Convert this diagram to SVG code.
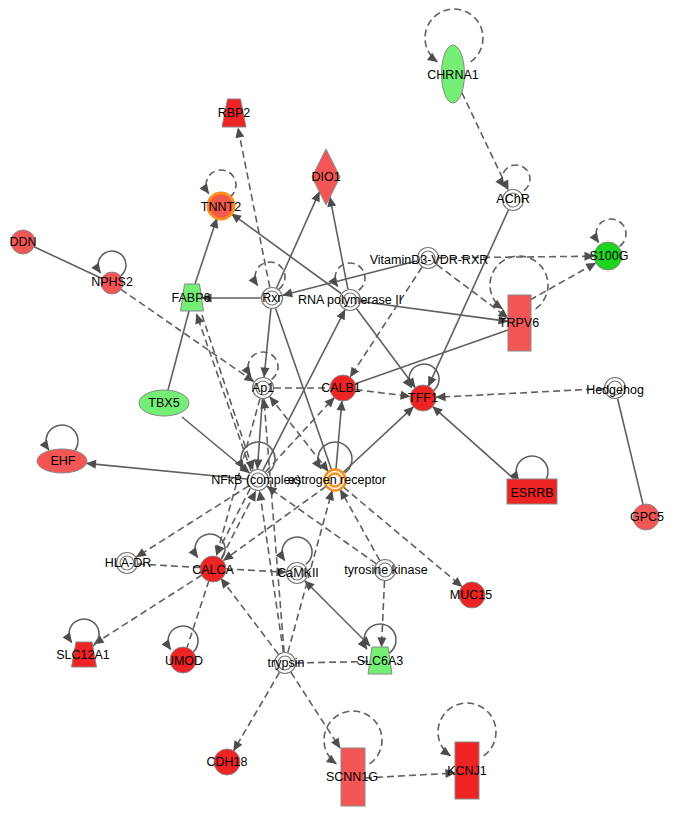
<svg xmlns="http://www.w3.org/2000/svg" width="685" height="823" viewBox="0 0 685 823">
<defs>
<marker id="arr" viewBox="0 0 10 10" refX="9.5" refY="5" markerWidth="11" markerHeight="10" markerUnits="userSpaceOnUse" orient="auto-start-reverse"><path d="M0,0.5 L10,5 L0,9.5 z" fill="#4d4d4d"/></marker>
<style>
.e{stroke:#606060;stroke-width:1.6;fill:none}
.d{stroke-dasharray:7 4}
.n{stroke:#888;stroke-width:1}
.r1{fill:#ee2424}
.r2{fill:#f45656}
.g1{fill:#74ee74}
.g2{fill:#1fd41f}
.cx{fill:#fff;stroke:#777;stroke-width:1.2}
.er{fill:#fff;stroke:#f5901e;stroke-width:2.5}
.t{font-family:"Liberation Sans",Arial,sans-serif;font-size:12.5px;fill:#000;text-anchor:middle}
</style>
</defs>
<rect width="685" height="823" fill="#fff"/>
<g id="edges">
<line class="e" x1="195" y1="284" x2="216.9" y2="218.3" marker-end="url(#arr)"/>
<line class="e" x1="341.1" y1="293.5" x2="231.5" y2="213.7" marker-end="url(#arr)"/>
<line class="e" x1="276.5" y1="288" x2="319.4" y2="191.8" marker-end="url(#arr)"/>
<line class="e" x1="347.9" y1="289.2" x2="329.9" y2="197.1" marker-end="url(#arr)"/>
<line class="e" x1="261" y1="298" x2="202" y2="298" marker-end="url(#arr)"/>
<line class="e" x1="417.3" y1="260.7" x2="282.7" y2="295.3" marker-end="url(#arr)"/>
<line class="e" x1="270.9" y1="308.9" x2="264.1" y2="377.1" marker-end="url(#arr)"/>
<line class="e" x1="275.6" y1="308.4" x2="331.4" y2="469.6"/>
<line class="e" x1="263" y1="470.2" x2="345" y2="309.8" marker-end="url(#arr)"/>
<line class="e" x1="356.6" y1="308.8" x2="415.2" y2="387.6" marker-end="url(#arr)"/>
<line class="e" x1="361" y1="301.5" x2="508" y2="321.4" marker-end="url(#arr)"/>
<line class="e" x1="508" y1="330" x2="355.3" y2="383.7"/>
<line class="e" x1="508.4" y1="210" x2="428.4" y2="386.2" marker-end="url(#arr)"/>
<line class="e" x1="514" y1="479" x2="432.7" y2="406.6" marker-end="url(#arr)"/>
<line class="e" x1="343" y1="472.5" x2="413.5" y2="406.9" marker-end="url(#arr)"/>
<line class="e" x1="336" y1="469" x2="341.9" y2="401" marker-end="url(#arr)"/>
<line class="e" x1="617.6" y1="398.7" x2="643" y2="504.4"/>
<line class="e" x1="34" y1="246.8" x2="102" y2="278.4"/>
<line class="e" x1="189" y1="311" x2="168" y2="390"/>
<line class="e" x1="182" y1="417" x2="249.5" y2="473" marker-end="url(#arr)"/>
<line class="e" x1="247" y1="479" x2="86.5" y2="463.4" marker-end="url(#arr)"/>
<line class="e" x1="262.4" y1="399" x2="257.4" y2="469" marker-end="url(#arr)"/>
<line class="e" x1="304.8" y1="580.8" x2="370" y2="646" marker-start="url(#arr)" marker-end="url(#arr)"/>
<line class="e d" x1="461.8" y1="92.5" x2="508.3" y2="190.1" marker-end="url(#arr)"/>
<line class="e d" x1="439" y1="257.9" x2="594" y2="256.2" marker-end="url(#arr)"/>
<line class="e d" x1="530" y1="300" x2="595.8" y2="262.9" marker-end="url(#arr)"/>
<line class="e d" x1="436.8" y1="264.6" x2="508" y2="318" marker-end="url(#arr)"/>
<line class="e d" x1="422" y1="267.2" x2="350.1" y2="377.1" marker-end="url(#arr)"/>
<line class="e d" x1="269.8" y1="287.2" x2="238" y2="128" marker-end="url(#arr)"/>
<line class="e d" x1="121" y1="289.4" x2="254" y2="381.6" marker-end="url(#arr)"/>
<line class="e d" x1="251" y1="471" x2="196.5" y2="314" marker-end="url(#arr)"/>
<line class="e d" x1="202" y1="315" x2="253" y2="470" marker-end="url(#arr)"/>
<line class="e d" x1="274" y1="388" x2="330" y2="388"/>
<line class="e d" x1="355.9" y1="389.6" x2="410.1" y2="396.4" marker-end="url(#arr)"/>
<line class="e d" x1="604" y1="388.6" x2="436" y2="397.3" marker-end="url(#arr)"/>
<line class="e d" x1="343.4" y1="487.1" x2="462" y2="586.6" marker-end="url(#arr)"/>
<line class="e d" x1="265.5" y1="471.9" x2="334.2" y2="397.5" marker-end="url(#arr)"/>
<line class="e d" x1="248.7" y1="485.9" x2="136.3" y2="557.1" marker-end="url(#arr)"/>
<line class="e d" x1="138" y1="564" x2="200" y2="567.5"/>
<line class="e d" x1="226" y1="568.8" x2="286" y2="572.3" marker-end="url(#arr)"/>
<line class="e d" x1="202" y1="575" x2="94" y2="644" marker-end="url(#arr)"/>
<line class="e d" x1="209" y1="580.4" x2="187" y2="647.6"/>
<line class="e d" x1="278.4" y1="654.2" x2="220.9" y2="578.4" marker-end="url(#arr)"/>
<line class="e d" x1="283.4" y1="652.1" x2="259.6" y2="490.9" marker-end="url(#arr)"/>
<line class="e d" x1="284.1" y1="652" x2="263.9" y2="399" marker-end="url(#arr)"/>
<line class="e d" x1="287.9" y1="652.4" x2="332.1" y2="490.6" marker-end="url(#arr)"/>
<line class="e d" x1="296" y1="663" x2="368" y2="661.5"/>
<line class="e d" x1="279.4" y1="672.5" x2="233.6" y2="750.8" marker-end="url(#arr)"/>
<line class="e d" x1="290.9" y1="672.3" x2="340" y2="748" marker-end="url(#arr)"/>
<line class="e d" x1="365" y1="778" x2="455" y2="773" marker-end="url(#arr)"/>
<line class="e d" x1="384.5" y1="581" x2="381.5" y2="647" marker-end="url(#arr)"/>
<line class="e d" x1="379.7" y1="560.4" x2="340.3" y2="489.6" marker-end="url(#arr)"/>
<line class="e d" x1="376" y1="563.6" x2="267" y2="486.4" marker-end="url(#arr)"/>
<line class="e d" x1="326.1" y1="486.4" x2="223.5" y2="560.4" marker-end="url(#arr)"/>
<line class="e d" x1="250.3" y1="488.4" x2="216.2" y2="555" marker-end="url(#arr)"/>
<line class="e d" x1="221.6" y1="557.8" x2="255.7" y2="491.2" marker-end="url(#arr)"/>
<line class="e d" x1="260" y1="398.6" x2="216.5" y2="555.5" marker-end="url(#arr)"/>
<line class="e d" x1="269.8" y1="396.7" x2="328.2" y2="471.3" marker-start="url(#arr)" marker-end="url(#arr)"/>
<path class="e d" d="M470.6,61.8 A29,29 0 1 0 437.4,61.8" marker-end="url(#arr)"/>
<path class="e d" d="M524,190.5 A14,14 0 1 0 504.5,187" marker-end="url(#arr)"/>
<path class="e d" d="M619.6,246.3 A15,15 0 1 0 598.7,242.6" marker-end="url(#arr)"/>
<path class="e d" d="M535.6,308.8 A29,29 0 1 0 502.4,308.8" marker-end="url(#arr)"/>
<path class="e d" d="M229.6,197.3 A15,15 0 1 0 208.7,193.6" marker-end="url(#arr)"/>
<path class="e d" d="M278.6,289.3 A15,15 0 1 0 257.7,285.6" marker-end="url(#arr)"/>
<path class="e d" d="M358.6,290.3 A15,15 0 1 0 337.7,286.6" marker-end="url(#arr)"/>
<path class="e d" d="M271.6,379.3 A15,15 0 1 0 250.7,375.6" marker-end="url(#arr)"/>
<path class="e d" d="M369.6,763.8 A29,29 0 1 0 336.4,763.8" marker-end="url(#arr)"/>
<path class="e d" d="M483.6,755.8 A29,29 0 1 0 450.4,755.8" marker-end="url(#arr)"/>
<path class="e" d="M120,276.5 A14,14 0 1 0 100.5,273" marker-end="url(#arr)"/>
<path class="e" d="M71.2,454.1 A16,16 0 1 0 48.9,450.2" marker-end="url(#arr)"/>
<path class="e" d="M432.6,391.3 A15,15 0 1 0 411.7,387.6" marker-end="url(#arr)"/>
<path class="e" d="M541.2,485.1 A16,16 0 1 0 518.9,481.2" marker-end="url(#arr)"/>
<path class="e" d="M267.8,472.9 A17,17 0 1 0 244.1,468.8" marker-end="url(#arr)"/>
<path class="e" d="M344.8,472.9 A17,17 0 1 0 321.1,468.8" marker-end="url(#arr)"/>
<path class="e" d="M218.6,561.3 A15,15 0 1 0 197.7,557.6" marker-end="url(#arr)"/>
<path class="e" d="M305.6,564.3 A15,15 0 1 0 284.7,560.6" marker-end="url(#arr)"/>
<path class="e" d="M92.6,646.3 A15,15 0 1 0 71.7,642.6" marker-end="url(#arr)"/>
<path class="e" d="M191.6,653.3 A15,15 0 1 0 170.7,649.6" marker-end="url(#arr)"/>
<path class="e" d="M389.2,653.1 A16,16 0 1 0 366.9,649.2" marker-end="url(#arr)"/>
</g>
<g id="CHRNA1"><ellipse class="n g1" cx="453" cy="74" rx="11.5" ry="29"/><text class="t" x="453" y="79">CHRNA1</text></g>
<g id="AChR"><circle class="cx" cx="513" cy="200" r="10.5"/><circle class="cx" cx="513" cy="200" r="7"/><text class="t" x="513" y="203">AChR</text></g>
<g id="S100G"><circle class="n g2" cx="608" cy="256" r="14"/><text class="t" x="609" y="260">S100G</text></g>
<g id="VDR"><circle class="cx" cx="428" cy="258" r="10.5"/><circle class="cx" cx="428" cy="258" r="7"/><text class="t" x="429" y="264">VitaminD3-VDR-RXR</text></g>
<g id="TRPV6"><rect class="n r2" x="508" y="295" width="23" height="56"/><text class="t" x="519" y="327">TRPV6</text></g>
<g id="RNApol"><circle class="cx" cx="350" cy="300" r="10.5"/><circle class="cx" cx="350" cy="300" r="7"/><text class="t" x="350" y="304">RNA polymerase II</text></g>
<g id="Rxr"><circle class="cx" cx="272" cy="298" r="10.5"/><circle class="cx" cx="272" cy="298" r="7"/><text class="t" x="272" y="302">Rxr</text></g>
<g id="FABP6"><polygon class="n g1" points="184.5,284 199.5,284 203.5,311 180.5,311"/><text class="t" x="191" y="302">FABP6</text></g>
<g id="RBP2"><polygon class="n r1" points="227.5,99 240.5,99 246,127 222,127"/><text class="t" x="234" y="117">RBP2</text></g>
<g id="DIO1"><polygon class="n r2" points="326,149 340,177 326,205 312,177"/><text class="t" x="326" y="181">DIO1</text></g>
<g id="TNNT2"><circle cx="221" cy="206" r="13" fill="#f45a4a" stroke="#f5901e" stroke-width="3"/><text class="t" x="221" y="211">TNNT2</text></g>
<g id="DDN"><circle class="n r2" cx="23" cy="242" r="12"/><text class="t" x="23" y="246">DDN</text></g>
<g id="NPHS2"><circle class="n r2" cx="112" cy="283" r="11"/><text class="t" x="112" y="286">NPHS2</text></g>
<g id="Ap1"><circle class="cx" cx="263" cy="388" r="10.5"/><circle class="cx" cx="263" cy="388" r="7"/><text class="t" x="263" y="392">Ap1</text></g>
<g id="CALB1"><circle class="n r1" cx="343" cy="388" r="13"/><text class="t" x="341" y="392">CALB1</text></g>
<g id="TFF1"><circle class="n r1" cx="423" cy="398" r="13"/><text class="t" x="423" y="402">TFF1</text></g>
<g id="Hedgehog"><circle class="cx" cx="615" cy="388" r="10.5"/><circle class="cx" cx="615" cy="388" r="7"/><text class="t" x="615" y="394">Hedgehog</text></g>
<g id="ESRRB"><rect class="n r1" x="507" y="479" width="50" height="25"/><text class="t" x="532" y="497">ESRRB</text></g>
<g id="GPC5"><circle class="n r2" cx="646" cy="517" r="13"/><text class="t" x="647" y="521">GPC5</text></g>
<g id="TBX5"><ellipse class="n g1" cx="164" cy="403" rx="25" ry="13"/><text class="t" x="164" y="407">TBX5</text></g>
<g id="EHF"><ellipse class="n r2" cx="62" cy="461" rx="25" ry="12"/><text class="t" x="63" y="465">EHF</text></g>
<g id="NFkB"><circle class="cx" cx="258" cy="480" r="10.5"/><circle class="cx" cx="258" cy="480" r="7"/><text class="t" x="256" y="484">NFkB (complex)</text></g>
<g id="ER"><circle class="er" cx="335" cy="480" r="10.5"/><circle class="er" cx="335" cy="480" r="6.5"/><text class="t" x="337" y="484">estrogen receptor</text></g>
<g id="HLA-DR"><circle class="cx" cx="127" cy="563" r="10.5"/><circle class="cx" cx="127" cy="563" r="7"/><text class="t" x="128" y="567">HLA-DR</text></g>
<g id="CALCA"><circle class="n r1" cx="213" cy="569" r="13"/><text class="t" x="213" y="574">CALCA</text></g>
<g id="CaMKII"><circle class="cx" cx="297" cy="573" r="10.5"/><circle class="cx" cx="297" cy="573" r="7"/><text class="t" x="298" y="577">CaMKII</text></g>
<g id="TK"><circle class="cx" cx="385" cy="570" r="10.5"/><circle class="cx" cx="385" cy="570" r="7"/><text class="t" x="386" y="574">tyrosine kinase</text></g>
<g id="MUC15"><circle class="n r1" cx="472" cy="595" r="13"/><text class="t" x="471" y="599">MUC15</text></g>
<g id="SLC12A1"><polygon class="n r1" points="76,642 92,642 96.5,667 71.5,667"/><text class="t" x="83" y="659">SLC12A1</text></g>
<g id="UMOD"><circle class="n r1" cx="183" cy="660" r="13"/><text class="t" x="184" y="665">UMOD</text></g>
<g id="trypsin"><circle class="cx" cx="285" cy="663" r="10.5"/><circle class="cx" cx="285" cy="663" r="7"/><text class="t" x="286" y="667">trypsin</text></g>
<g id="SLC6A3"><polygon class="n g1" points="372,647 388,647 392,674 368,674"/><text class="t" x="380" y="665">SLC6A3</text></g>
<g id="CDH18"><circle class="n r1" cx="227" cy="762" r="13"/><text class="t" x="227" y="766">CDH18</text></g>
<g id="SCNN1G"><rect class="n r2" x="341" y="748" width="24" height="58"/><text class="t" x="352" y="781">SCNN1G</text></g>
<g id="KCNJ1"><rect class="n r1" x="455" y="742" width="24" height="57"/><text class="t" x="467" y="775">KCNJ1</text></g>
</svg>
